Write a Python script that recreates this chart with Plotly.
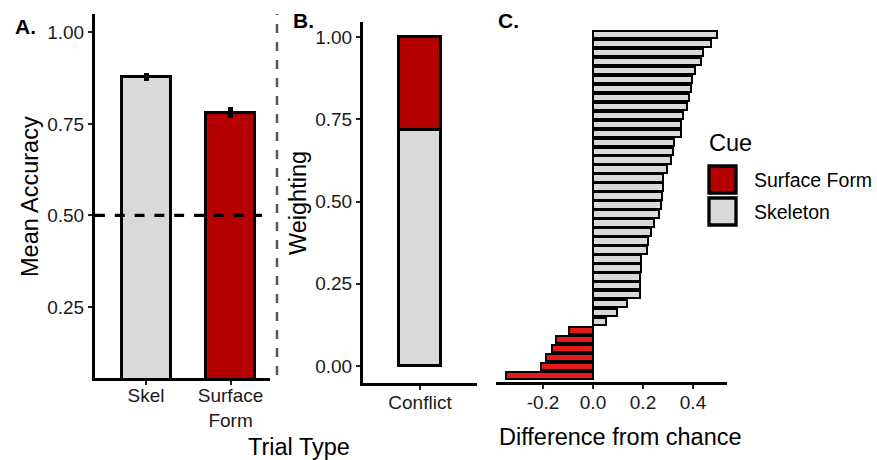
import plotly.graph_objects as go

# ---------------- data ----------------
trial_types = ["Skel", "Surface Form"]
trial_labels = ["Skel", "Surface<br>Form"]
mean_accuracy = [0.878, 0.780]
accuracy_se = [0.011, 0.015]

conflict_label = ["Conflict"]
weight_skeleton = [0.717]
weight_surface = [0.283]

# Panel C: per-participant difference from chance, top to bottom
diff_from_chance = [0.496, 0.473, 0.439, 0.433, 0.409, 0.396, 0.393, 0.383, 0.377,
                    0.359, 0.353, 0.351, 0.324, 0.319, 0.313, 0.296, 0.281, 0.280,
                    0.277, 0.273, 0.263, 0.244, 0.231, 0.220, 0.215, 0.191, 0.190,
                    0.188, 0.187, 0.186, 0.135, 0.096, 0.052, -0.096, -0.149,
                    -0.165, -0.189, -0.209, -0.349]

chance_level = 0.5

RED = "#B40000"
RED_C = "#E41A1C"
GREY = "#D9D9D9"
FONT = "Liberation Sans, Arial, sans-serif"

W, H = 877, 460
def px_x(p): return p / W
def px_y(p): return 1 - p / H

fig = go.Figure()

# ---- Panel A ----
xa = [0, 1]
fig.add_trace(go.Bar(
    x=xa, y=mean_accuracy, width=0.58,
    marker=dict(color=[GREY, RED], line=dict(color="black", width=3.3)),
    error_y=dict(type="data", array=accuracy_se, color="black", thickness=5, width=0),
    xaxis="x", yaxis="y", showlegend=False, hoverinfo="y"))
fig.add_trace(go.Scatter(
    x=[-0.604, 1.373], y=[chance_level, chance_level], mode="lines",
    line=dict(color="black", width=3.3, dash="dash"),
    xaxis="x", yaxis="y", showlegend=False, hoverinfo="skip"))

# ---- Panel B ----
fig.add_trace(go.Bar(
    x=[0], y=weight_skeleton, width=0.75, name="Skeleton",
    marker=dict(color=GREY, line=dict(color="black", width=3.3)),
    xaxis="x2", yaxis="y2", showlegend=False))
fig.add_trace(go.Bar(
    x=[0], y=weight_surface, width=0.75, name="Surface Form",
    marker=dict(color=RED, line=dict(color="black", width=3.3)),
    xaxis="x2", yaxis="y2", showlegend=False))

# ---- Panel C ----
n = len(diff_from_chance)
ranks = [n - i for i in range(n)]
pos_x = [v for v in diff_from_chance if v >= 0]
pos_y = [r for v, r in zip(diff_from_chance, ranks) if v >= 0]
neg_x = [v for v in diff_from_chance if v < 0]
neg_y = [r for v, r in zip(diff_from_chance, ranks) if v < 0]
fig.add_trace(go.Bar(
    x=pos_x, y=pos_y, orientation="h", width=0.82,
    marker=dict(color=GREY, line=dict(color="black", width=2.2)),
    xaxis="x3", yaxis="y3", showlegend=False))
fig.add_trace(go.Bar(
    x=neg_x, y=neg_y, orientation="h", width=0.82,
    marker=dict(color=RED_C, line=dict(color="black", width=2.2)),
    xaxis="x3", yaxis="y3", showlegend=False))

tickfont = dict(family=FONT, size=19, color="#1a1a1a")
axis_common = dict(showline=True, linecolor="black", linewidth=3, ticks="outside",
                   ticklen=4, tickwidth=2, tickcolor="#222", showgrid=False,
                   zeroline=False, tickfont=tickfont)

fig.update_layout(
    width=W, height=H, margin=dict(l=0, r=0, t=0, b=0),
    paper_bgcolor="white", plot_bgcolor="white",
    barmode="stack", bargap=0,
    font=dict(family=FONT, color="black"),
    xaxis=dict(domain=[px_x(95), px_x(270)], range=[-0.604, 1.467], tickvals=xa,
               ticktext=trial_labels, anchor="y", ticklabelstandoff=-6, **axis_common),
    yaxis=dict(domain=[px_y(378), px_y(14)], range=[0.056, 1.05],
               tickvals=[0.25, 0.5, 0.75, 1.0], ticktext=["0.25", "0.50", "0.75", "1.00"],
               anchor="x", **axis_common),
    xaxis2=dict(domain=[px_x(363), px_x(477)], range=[-1, 1], tickvals=[0],
                ticktext=conflict_label, anchor="y2", ticklabelstandoff=-4, **axis_common),
    yaxis2=dict(domain=[px_y(383), px_y(22)], range=[-0.052, 1.046],
                tickvals=[0, 0.25, 0.5, 0.75, 1.0],
                ticktext=["0.00", "0.25", "0.50", "0.75", "1.00"], anchor="x2", **axis_common),
    xaxis3=dict(domain=[px_x(496), px_x(727)], range=[-0.388, 0.536],
                tickvals=[-0.2, 0, 0.2, 0.4], ticktext=["-0.2", "0.0", "0.2", "0.4"],
                anchor="y3", ticklabelstandoff=-3, **axis_common),
    yaxis3=dict(domain=[px_y(382), px_y(27)], range=[0.28, n + 0.84], visible=False,
                anchor="x3"),
)

# separator line between A and B
fig.add_shape(type="line", xref="paper", yref="paper",
              x0=px_x(277), x1=px_x(277), y0=px_y(375), y1=px_y(14),
              line=dict(color="#555555", width=2.5, dash="dash"))

# titles and panel labels
def ann(text, x, y, size, angle=0, bold=False, xanchor="center"):
    fig.add_annotation(text=f"<b>{text}</b>" if bold else text, xref="paper", yref="paper",
                       x=px_x(x), y=px_y(y), showarrow=False, textangle=angle,
                       xanchor=xanchor, yanchor="middle",
                       font=dict(family=FONT, size=size, color="black"))

ann("Mean Accuracy", 30, 197, 23.5, angle=-90)
ann("Weighting", 298, 203, 23.5, angle=-90)
ann("Trial Type", 299, 447, 23.5)
ann("Difference from chance", 620, 437, 23.5)
ann("A.", 13, 26, 21, bold=True, xanchor="left")
ann("B.", 291, 21, 21, bold=True, xanchor="left")
ann("C.", 496, 21, 21, bold=True, xanchor="left")

# legend (manual)
ann("Cue", 707, 143, 23.5, xanchor="left")
for (label, col, y0) in [("Surface Form", RED, 166), ("Skeleton", GREY, 198)]:
    fig.add_shape(type="rect", xref="paper", yref="paper",
                  x0=px_x(709), x1=px_x(736), y0=px_y(y0 + 27), y1=px_y(y0),
                  fillcolor=col, line=dict(color="black", width=3.3))
    ann(label, 752, y0 + 14, 19.5, xanchor="left")

# remove the default page margin so the figure fills the window exactly
fig.write_html("out.html", config={"displayModeBar": False},
               post_script="document.body.style.margin='0';document.body.style.overflow='hidden';")
